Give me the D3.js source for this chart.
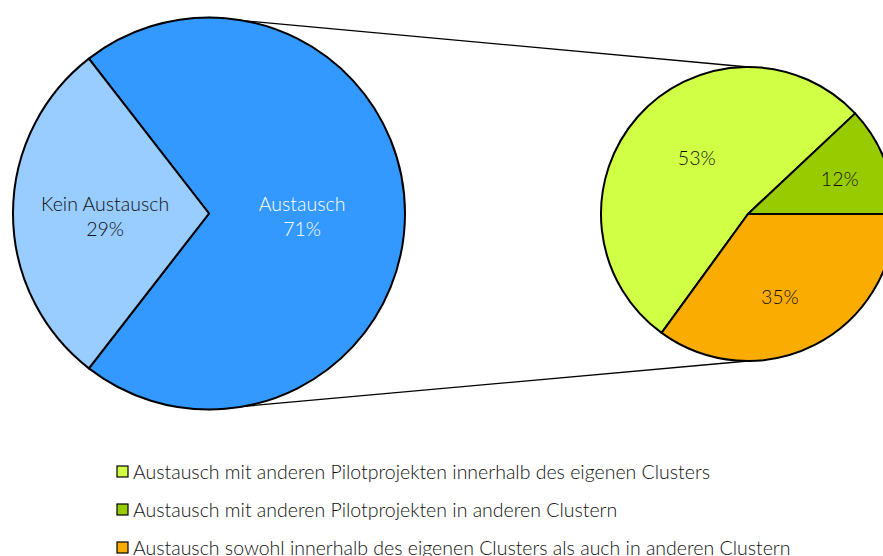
<!DOCTYPE html>
<html>
<head>
<meta charset="utf-8">
<script src="https://cdn.jsdelivr.net/npm/d3@7"></script>
<style>
  body { margin: 0; background: #fff; }
  svg text { font-family: Lato, "Open Sans", sans-serif; font-weight: 300; }
</style>
</head>
<body>
<svg id="chart" width="883" height="556"></svg>
<script>
// main pie
const mainLabels = ["Austausch", "Kein Austausch"];
const mainValues = [71, 29];
const mainColors = ["#3399ff", "#99ccff"];

// second pie (breakdown of "Austausch")
const subLabels = [
  "Austausch mit anderen Pilotprojekten innerhalb des eigenen Clusters",
  "Austausch mit anderen Pilotprojekten in anderen Clustern",
  "Austausch sowohl innerhalb des eigenen Clusters als auch in anderen Clustern"
];
const subValues = [53, 12, 35];
const subColors = ["#d0ff45", "#99cc00", "#faad00"];

const svg = d3.select("#chart");
const deg = Math.PI / 180;

var cx1 = 209, cy1 = 213.5, r1 = 196;
var cx2 = 748, cy2 = 214, r2 = 147;

// connector lines (top of left pie to top of right pie, same for bottom)
svg.append("path")
  .attr("d", d3.line()([[cx1, cy1 - r1], [cx2, cy2 - r2]]))
  .attr("stroke", "black").attr("stroke-width", 1.3).attr("fill", "none");
svg.append("path")
  .attr("d", d3.line()([[cx1, cy1 + r1], [cx2, cy2 + r2]]))
  .attr("stroke", "black").attr("stroke-width", 1.3).attr("fill", "none");

// left pie: "Austausch" centred on the right side
const mainSpan = mainValues[0] / d3.sum(mainValues) * 360;
const pie1 = d3.pie().sort(null)
  .startAngle((90 - mainSpan / 2) * deg)
  .endAngle((450 - mainSpan / 2) * deg);
const arc1 = d3.arc().innerRadius(0).outerRadius(r1);

const g1 = svg.append("g").attr("transform", `translate(${cx1},${cy1})`);
const arcs1 = pie1(mainValues);
g1.selectAll("path")
  .data(arcs1)
  .join("path")
    .attr("d", arc1)
    .attr("fill", (d, i) => mainColors[i])
    .attr("stroke", "black")
    .attr("stroke-width", 2)
    .attr("stroke-linejoin", "round");

var mainLabelR = [0.475, 0.53];
g1.selectAll("text.lbl")
  .data(arcs1)
  .join("text")
    .attr("class", "lbl")
    .attr("transform", (d, i) => {
      const a = (d.startAngle + d.endAngle) / 2;
      const rr = r1 * mainLabelR[i];
      return `translate(${rr * Math.sin(a)},${-rr * Math.cos(a)})`;
    })
    .attr("text-anchor", "middle")
    .attr("font-size", 19.5)
    .attr("fill", (d, i) => i == 0 ? "white" : "#111")
    .attr("font-weight", (d, i) => i == 0 ? 400 : 300)
    .each(function(d, i) {
      const t = d3.select(this);
      t.append("tspan").attr("x", 0).attr("y", -3).text(mainLabels[i]);
      t.append("tspan").attr("x", 0).attr("y", 22).text(mainValues[i] + "%");
    });

// right pie
const pie2 = d3.pie().sort(null)
  .startAngle(216 * deg)
  .endAngle(576 * deg);
const arc2 = d3.arc().innerRadius(0).outerRadius(r2);
const g2 = svg.append("g").attr("transform", `translate(${cx2},${cy2})`);
const arcs2 = pie2(subValues);
g2.selectAll("path")
  .data(arcs2)
  .join("path")
    .attr("d", arc2)
    .attr("fill", (d, i) => subColors[i])
    .attr("stroke", "black")
    .attr("stroke-width", 2)
    .attr("stroke-linejoin", "round");

// label placement: fraction of radius and angle shift (deg) from slice middle
var subLabelR = [0.515, 0.667, 0.605];
var subLabelShift = [6, 1, 6];
g2.selectAll("text")
  .data(arcs2)
  .join("text")
    .attr("transform", (d, i) => {
      const a = (d.startAngle + d.endAngle) / 2 + subLabelShift[i] * deg;
      const rr = r2 * subLabelR[i];
      return `translate(${rr * Math.sin(a)},${-rr * Math.cos(a)})`;
    })
    .attr("text-anchor", "middle")
    .attr("dy", "0.35em")
    .attr("font-size", 19.5)
    .attr("fill", "#111")
    .text(d => d.data + "%");

// legend
const leg = svg.append("g").attr("transform", "translate(117,466)");
const rows = leg.selectAll("g")
  .data(subLabels)
  .join("g")
    .attr("transform", (d, i) => `translate(0,${i * 38})`);
rows.append("rect")
  .attr("width", 11).attr("height", 11)
  .attr("fill", (d, i) => subColors[i])
  .attr("stroke", "black").attr("stroke-width", 1.2);
rows.append("text")
  .attr("x", 16).attr("y", 12.5)
  .attr("font-size", 19.5)
  .attr("fill", "#111")
  .text(d => d);
</script>
</body>
</html>
